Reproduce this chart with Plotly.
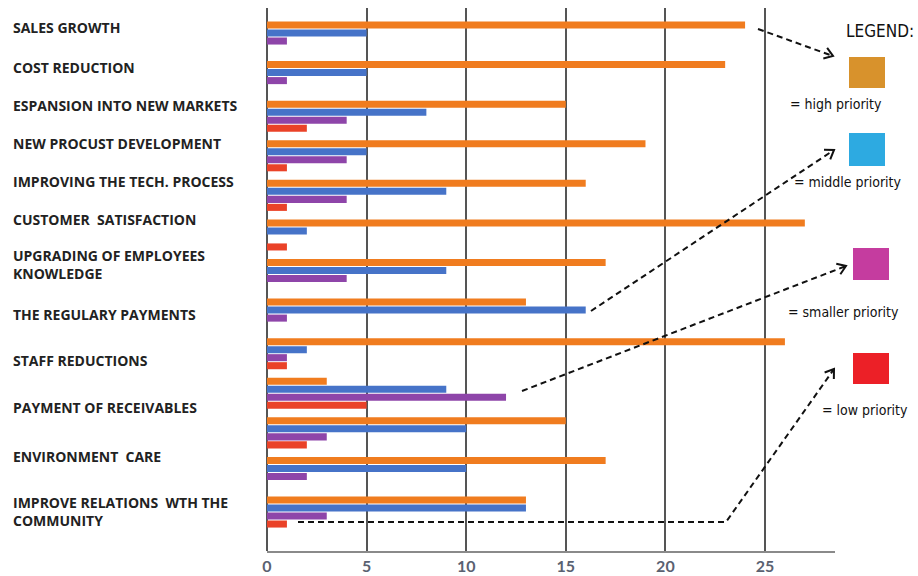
import math
import plotly.graph_objects as go

# ---------------- data ----------------
labels = [
    "SALES GROWTH",
    "COST REDUCTION",
    "ESPANSION INTO NEW MARKETS",
    "NEW PROCUST DEVELOPMENT",
    "IMPROVING THE TECH. PROCESS",
    "CUSTOMER  SATISFACTION",
    "UPGRADING OF EMPLOYEES<br>KNOWLEDGE",
    "THE REGULARY PAYMENTS",
    "STAFF REDUCTIONS",
    "PAYMENT OF RECEIVABLES",
    "ENVIRONMENT  CARE",
    "IMPROVE RELATIONS  WTH THE<br>COMMUNITY",
]
# vertical position of each text label (in group units; the original label column drifts)
label_pos = [-0.23, 0.78, 1.72, 2.68, 3.66, 4.62, 5.74, 7.0, 8.16, 9.37, 10.61, 11.98]

groups = list(range(13))  # 13 bar groups in the original picture
high_priority = [24, 23, 15, 19, 16, 27, 17, 13, 26, 3, 15, 17, 13]
middle_priority = [5, 5, 8, 5, 9, 2, 9, 16, 2, 9, 10, 10, 13]
smaller_priority = [1, 1, 4, 4, 4, 0, 4, 1, 1, 12, 3, 2, 3]
low_priority = [0, 0, 2, 1, 1, 1, 0, 0, 1, 5, 2, 0, 1]

x_ticks = [0, 5, 10, 15, 20, 25]

series_names = ["high priority", "middle priority", "smaller priority", "low priority"]
bar_colors = ["#F07C1F", "#4673C8", "#8E45A9", "#EA4228"]
legend_colors = ["#D8922C", "#2DAAE1", "#C53C9F", "#EC2027"]

# ---------------- layout geometry (pixels) ----------------
W, H = 918, 576
L, R, T, B = 267, 83, 8, 25
PW, PH = W - L - R, H - T - B


def px(x):
    return (x - L) / PW


def py(y):
    return 1 - (y - T) / PH


fig = go.Figure()
for name, vals, col in zip(series_names,
                           [high_priority, middle_priority, smaller_priority, low_priority],
                           bar_colors):
    fig.add_trace(go.Bar(x=vals, y=groups, orientation="h", name=name,
                         marker=dict(color=col, line=dict(width=0))))

shapes = []
annotations = []

# category labels (left aligned)
for lab, pos in zip(labels, label_pos):
    annotations.append(dict(text=lab, xref="paper", x=px(11), xanchor="left",
                            yref="y", y=pos, yanchor="middle", align="left",
                            showarrow=False,
                            font=dict(family="Open Sans", size=14, color="#222222", weight="bold")))

NARROW = "Liberation Sans Narrow, DejaVu Sans Condensed, Arial Narrow, sans-serif"
# legend
annotations.append(dict(text="LEGEND:", xref="paper", yref="paper", x=px(844), y=py(31),
                        xanchor="left", yanchor="middle", showarrow=False,
                        font=dict(family=NARROW, size=17, color="#111111")))
boxes = [(849, 57, 885, 88), (849, 133, 885, 166), (853, 248, 889, 280), (853, 353, 889, 384)]
texts = [("= high priority", 836, 104), ("= middle priority", 848, 182),
         ("= smaller priority", 843, 312), ("= low priority", 865, 410)]
for (x0, y0, x1, y1), col in zip(boxes, legend_colors):
    shapes.append(dict(type="rect", xref="paper", yref="paper", x0=px(x0), x1=px(x1),
                       y0=py(y1), y1=py(y0), fillcolor=col, line=dict(width=0), layer="above"))
for (t, cx, cy) in texts:
    annotations.append(dict(text=t, xref="paper", yref="paper", x=px(cx), y=py(cy),
                            xanchor="center", yanchor="middle", showarrow=False,
                            font=dict(family=NARROW, size=14, color="#111111")))

# dashed arrows
arrows = [
    [(758, 29), (833, 56)],
    [(591, 311), (834, 150)],
    [(522, 391), (846, 266)],
    [(298, 522), (726, 522), (834, 369)],
]
for pts in arrows:
    path = "M " + " L ".join(f"{px(x):.5f},{py(y):.5f}" for x, y in pts)
    shapes.append(dict(type="path", xref="paper", yref="paper", path=path,
                       line=dict(color="#111111", width=2, dash="6px,4px"), layer="above"))
    (xa, ya), (xb, yb) = pts[-2], pts[-1]
    ang = math.atan2(yb - ya, xb - xa)
    arm = 10
    p1 = (xb - arm * math.cos(ang - 0.6), yb - arm * math.sin(ang - 0.6))
    p2 = (xb - arm * math.cos(ang + 0.6), yb - arm * math.sin(ang + 0.6))
    hp = (f"M {px(p1[0]):.5f},{py(p1[1]):.5f} L {px(xb):.5f},{py(yb):.5f} "
          f"L {px(p2[0]):.5f},{py(p2[1]):.5f}")
    shapes.append(dict(type="path", xref="paper", yref="paper", path=hp,
                       line=dict(color="#111111", width=2), layer="above"))

fig.update_layout(
    width=W, height=H,
    margin=dict(l=L, r=R, t=T, b=B, pad=0, autoexpand=False),
    paper_bgcolor="white", plot_bgcolor="white",
    barmode="group", bargap=0.19, bargroupgap=0.12,
    showlegend=False,
    shapes=shapes, annotations=annotations,
    xaxis=dict(range=[0, PW / 19.92], tickvals=x_ticks, ticktext=[str(v) for v in x_ticks],
               showgrid=True, gridcolor="#555555", gridwidth=2,
               zeroline=True, zerolinecolor="#555555", zerolinewidth=2,
               showline=True, linecolor="#8a8a8a", linewidth=2,
               ticks="", ticklabelstandoff=0,
               tickfont=dict(family="Lato", size=16, color="#5a6171", weight="bold"),
               automargin=False, fixedrange=True),
    yaxis=dict(range=[12.985, -0.733], showticklabels=False, showgrid=False,
               zeroline=False, showline=False, ticks="", automargin=False, fixedrange=True),
)

fig.write_html("out.html")
